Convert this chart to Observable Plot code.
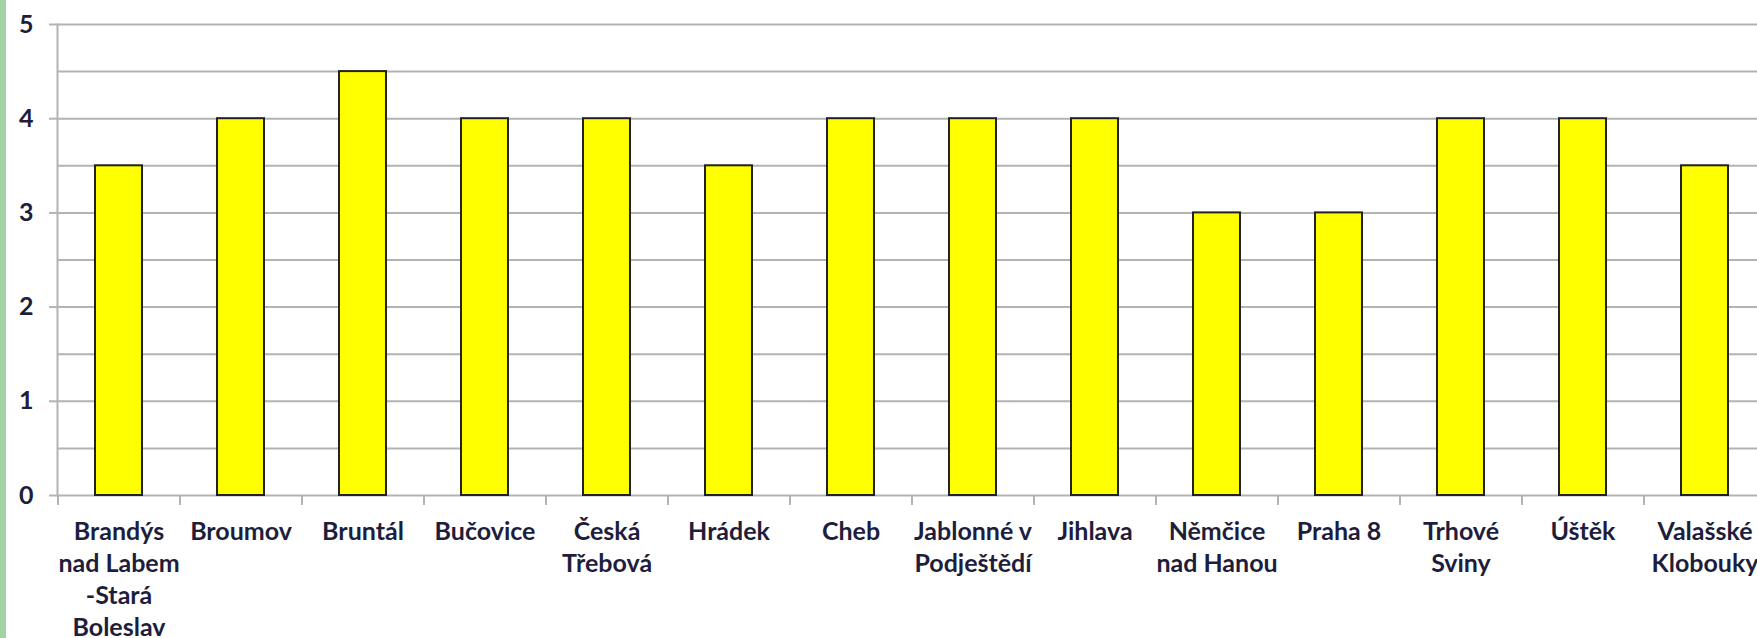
<!DOCTYPE html>
<html>
<head>
<meta charset="utf-8">
<script src="https://cdn.jsdelivr.net/npm/d3@7"></script>
<script src="https://cdn.jsdelivr.net/npm/@observablehq/plot@0.6"></script>
<style>
  html, body { margin: 0; padding: 0; background: #ffffff; }
  #wrap { position: relative; width: 1757px; height: 638px; overflow: hidden; }
  #strip { position: absolute; left: 0; top: 0; width: 6px; height: 638px; background: #a2d2a2; }
</style>
</head>
<body>
<div id="wrap"><div id="strip"></div></div>
<script>
const categories = [
  "Brandýs\nnad Labem\n-Stará\nBoleslav",
  "Broumov",
  "Bruntál",
  "Bučovice",
  "Česká\nTřebová",
  "Hrádek",
  "Cheb",
  "Jablonné v\nPodještědí",
  "Jihlava",
  "Němčice\nnad Hanou",
  "Praha 8",
  "Trhové\nSviny",
  "Úštěk",
  "Valašské\nKlobouky"
];
const values = [3.5, 4, 4.5, 4, 4, 3.5, 4, 4, 4, 3, 3, 4, 4, 3.5];
const yTicks = [0, 1, 2, 3, 4, 5];
const yGrid = [0, 0.5, 1, 1.5, 2, 2.5, 3, 3.5, 4, 4.5, 5];

const data = categories.map((c, i) => ({name: c, value: values[i]}));

const gridColor = "#b3b3b3";
const textColor = "#1e1e3c";
const font = "Lato, 'Open Sans', sans-serif";

const chart = Plot.plot({
  width: 1757,
  height: 638,
  marginLeft: 57,
  marginTop: 24,
  marginBottom: 143,
  marginRight: 0,
  style: {fontFamily: font, background: "transparent"},
  x: {domain: categories, range: [57, 1766], paddingInner: 0.615, paddingOuter: 0.3075, align: 0.5},
  y: {domain: [0, 5]},
  marks: [
    Plot.ruleY(yGrid, {y: d => d, stroke: gridColor, strokeWidth: 2}),
    Plot.frame({anchor: "left", stroke: gridColor, strokeWidth: 2}),
    Plot.ruleX(categories, {x: d => d, dx: -61, y1: 0, y2: 0, insetBottom: -10, stroke: gridColor, strokeWidth: 2}),
    Plot.barY(data, {x: "name", y: "value", fill: "#ffff00", stroke: "#222222", strokeWidth: 2}),
    Plot.axisY(yTicks, {
      tickSize: 8, tickPadding: 16, stroke: gridColor, strokeWidth: 2,
      fill: textColor, fontSize: 25, fontWeight: "bold", tickFormat: d => String(d), label: null
    }),
    Plot.axisX({
      tickSize: 0, tickPadding: 22, fill: textColor, fontSize: 25, fontWeight: "bold",
      lineHeight: 1.28, label: null
    })
  ]
});
document.getElementById("wrap").prepend(chart);
</script>
</body>
</html>
